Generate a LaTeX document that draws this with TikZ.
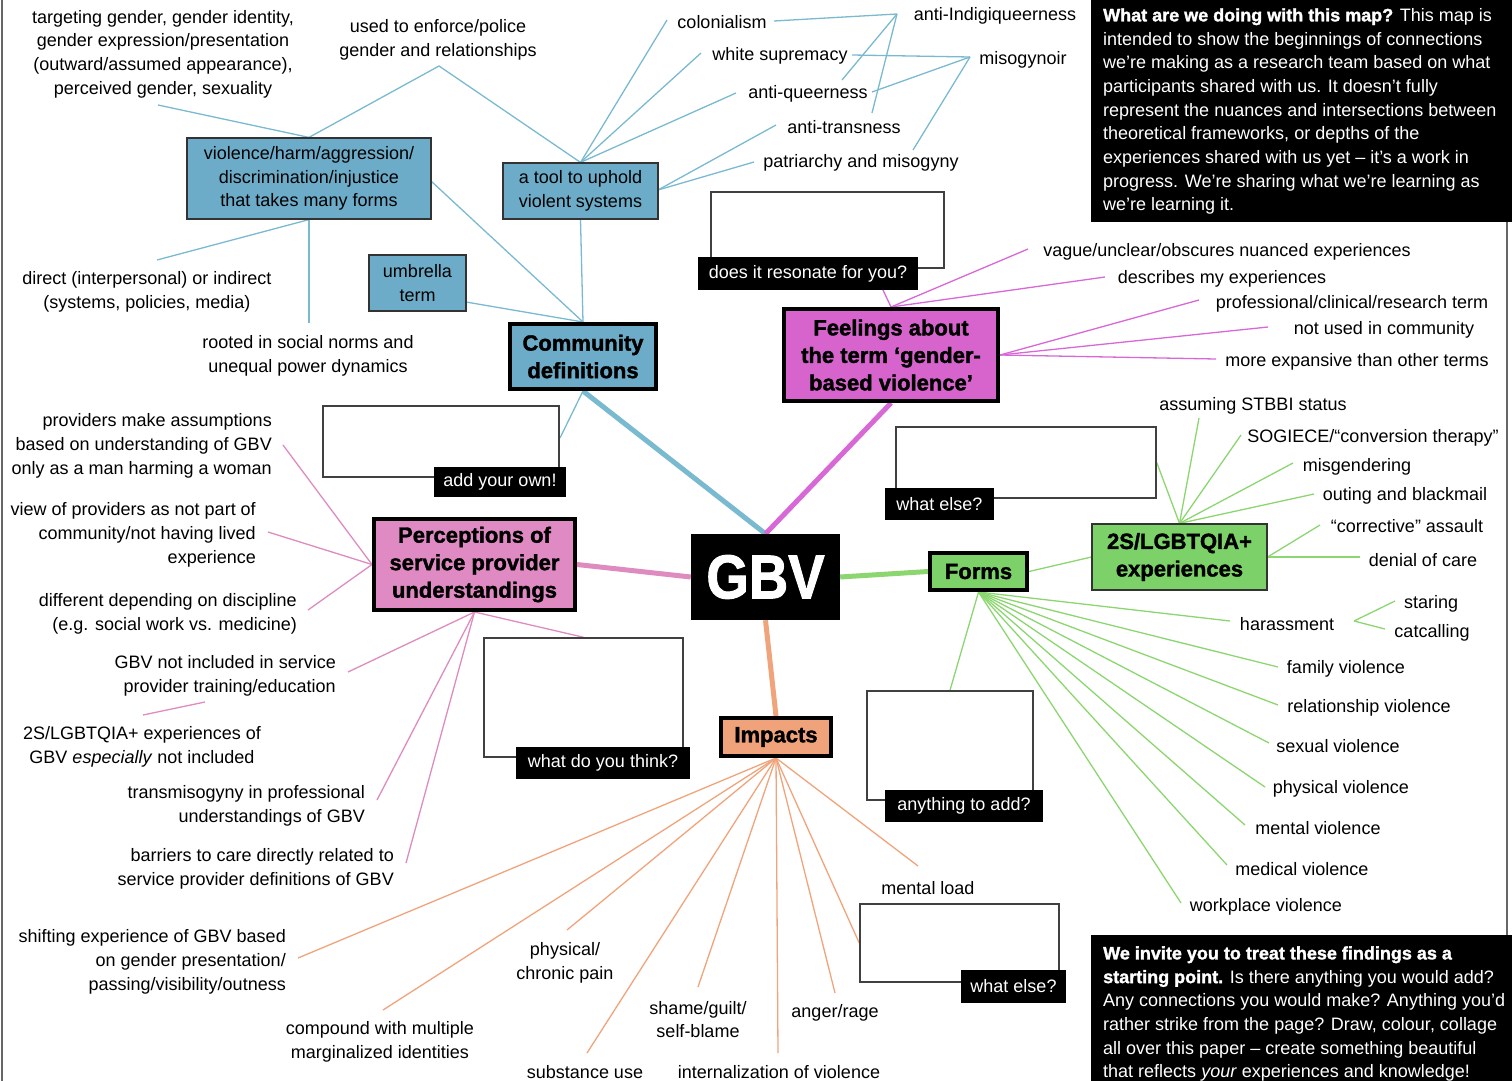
\documentclass[tikz,border=0pt]{standalone}
\usepackage{fontspec}
\setmainfont{Liberation Sans}
\newfontfamily\hvy[FakeBold=1.6]{Liberation Sans}
\usepackage{graphicx}
\usetikzlibrary{backgrounds}
\definecolor{blueF}{RGB}{108,172,200}
\definecolor{blueL}{RGB}{122,186,208}
\definecolor{magF}{RGB}{214,100,204}
\definecolor{magL}{RGB}{216,104,214}
\definecolor{pinkF}{RGB}{224,138,196}
\definecolor{pinkL}{RGB}{222,140,192}
\definecolor{grnF}{RGB}{124,210,104}
\definecolor{grnL}{RGB}{140,214,112}
\definecolor{orF}{RGB}{240,162,122}
\definecolor{orL}{RGB}{240,164,124}
\newcommand\fs{\fontsize{18}{23.7}\selectfont}
\newcommand\hfs{\fontsize{22}{27.5}\selectfont\hvy\bfseries}
\newcommand\hb[1]{{\hvy\bfseries #1}}
\begin{document}
\begin{tikzpicture}[x=1pt,y=-1pt,
 txt/.style={font=\fs, inner sep=0pt, align=center},
 rtxt/.style={font=\fs, inner sep=0pt, align=right, anchor=east},
 sbox/.style={draw=black!80, line width=1.2, fill=blueF, font=\fs, align=center, inner sep=0pt},
 hbox/.style={draw=black, line width=4, font=\hfs, align=center, inner sep=0pt},
 ebox/.style={draw=black!75, line width=1.5, fill=white, inner sep=0pt},
 lbl/.style={fill=black, text=white, font=\fs, inner sep=0pt},
 wtxt/.style={font=\fs, text=white, align=left, inner sep=0pt, anchor=west},
 lb/.style={draw=blueL, line width=1.3},
 bth/.style={draw=blueL, line width=5},
 ml/.style={draw=magL, line width=1.3},
 mth/.style={draw=magL, line width=5},
 pl/.style={draw=pinkL, line width=1.3},
 pth/.style={draw=pinkL, line width=5},
 gl/.style={draw=grnL, line width=1.3},
 gth/.style={draw=grnL, line width=5},
 ol/.style={draw=orL, line width=1.3},
 oth/.style={draw=orL, line width=5}]
\useasboundingbox (0,0) rectangle (1512,1081);
\draw[black!60, line width=1.5] (2,0) -- (2,1081);
\draw[black!60, line width=1.5] (1507,222) -- (1507,935);

% ---------- main boxes ----------
\node[fill=black, minimum width=149, minimum height=86, inner sep=0pt, text=white,
 font=\fontsize{62}{62}\selectfont\hvy\bfseries] (gbv) at (765.5,577) {\scalebox{0.88}[1]{GBV}};
\node[hbox, fill=blueF, minimum width=146, minimum height=65] (comm) at (583,356.5) {Community\\definitions};
\node[hbox, fill=magF, minimum width=214, minimum height=92] (feel) at (891,355) {Feelings about\\the term ‘gender-\\based violence’};
\node[hbox, fill=pinkF, minimum width=201, minimum height=91] (perc) at (474.5,564.5) {Perceptions of\\service provider\\understandings};
\node[hbox, fill=grnF, minimum width=97, minimum height=37] (forms) at (978.5,571.5) {Forms};
\node[hbox, fill=orF, minimum width=110, minimum height=38] (imp) at (776,737) {Impacts};
\node[draw=black!80, line width=1.2, fill=grnF, font=\hfs, align=center, inner sep=0pt,
 minimum width=175, minimum height=66] (lgb) at (1179.5,557) {2S/LGBTQIA+\\experiences};

% ---------- blue small boxes ----------
\node[sbox, minimum width=244, minimum height=81] (viol) at (309,178.5) {violence/harm/aggression/\\discrimination/injustice\\that takes many forms};
\node[sbox, minimum width=155, minimum height=56] (tool) at (580.5,191) {a tool to uphold\\violent systems};
\node[sbox, minimum width=97, minimum height=56] (umb) at (417.5,283) {umbrella\\term};

% ---------- empty boxes with labels ----------
\node[ebox, minimum width=236, minimum height=71] (e1) at (441,441.5) {};
\node[lbl, minimum width=132, minimum height=30] (l1) at (500,482) {add your own!};
\node[ebox, minimum width=233, minimum height=76] (e2) at (827.5,230) {};
\node[lbl, minimum width=220, minimum height=33] (l2) at (808,273.5) {does it resonate for you?};
\node[ebox, minimum width=260, minimum height=71] (e3) at (1026,462.5) {};
\node[lbl, minimum width=109, minimum height=32] (l3) at (939.5,504) {what else?};
\node[ebox, minimum width=199, minimum height=119] (e4) at (583.5,697.5) {};
\node[lbl, minimum width=174, minimum height=32] (l4) at (603,763) {what do you think?};
\node[ebox, minimum width=166, minimum height=109] (e5) at (950,745.5) {};
\node[lbl, minimum width=158, minimum height=32] (l5) at (964,806) {anything to add?};
\node[ebox, minimum width=199, minimum height=78] (e6) at (959.5,943) {};
\node[lbl, minimum width=105, minimum height=33] (l6) at (1013.5,986.5) {what else?};

% ---------- info boxes ----------
\node[fill=black, minimum width=421, minimum height=222, inner sep=0pt, anchor=north west] (infoT) at (1091,0) {};
\node[wtxt] (infoTt) at (1103,111.5) {\hb{What are we doing with this map?} This map is\\intended to show the beginnings of connections\\we’re making as a research team based on what\\participants shared with us. It doesn’t fully\\represent the nuances and intersections between\\theoretical frameworks, or depths of the\\experiences shared with us yet – it’s a work in\\progress. We’re sharing what we’re learning as\\we’re learning it.};
\node[fill=black, minimum width=421, minimum height=146, inner sep=0pt, anchor=north west] (infoB) at (1091,935) {};
\node[wtxt] (infoBt) at (1103,1014) {\hb{We invite you to treat these findings as a}\\\hb{starting point.} Is there anything you would add?\\Any connections you would make? Anything you’d\\rather strike from the page? Draw, colour, collage\\all over this paper – create something beautiful\\that reflects \emph{your} experiences and knowledge!};

% ---------- blue texts ----------
\node[txt] (tTarg) at (163,54) {targeting gender, gender identity,\\gender expression/presentation\\(outward/assumed appearance),\\perceived gender, sexuality};
\node[txt] (tEnf) at (438,40) {used to enforce/police\\gender and relationships};
\node[txt] (tDir) at (147,292) {direct (interpersonal) or indirect\\(systems, policies, media)};
\node[txt] (tRoot) at (308,356) {rooted in social norms and\\unequal power dynamics};
\node[txt] (tCol) at (722,22) {colonialism};
\node[txt] (tWhite) at (780,56) {white supremacy};
\node[txt] (tAQ) at (808,94) {anti-queerness};
\node[txt] (tAT) at (844,127) {anti-transness};
\node[txt] (tPat) at (861,163) {patriarchy and misogyny};
\node[txt] (tInd) at (995,16) {anti-Indigiqueerness};
\node[txt] (tMis) at (1023,60) {misogynoir};

% ---------- magenta texts ----------
\node[txt] (tVag) at (1227,252) {vague/unclear/obscures nuanced experiences};
\node[txt] (tDes) at (1222,279) {describes my experiences};
\node[txt] (tProf) at (1352,304) {professional/clinical/research term};
\node[txt] (tNot) at (1384,330) {not used in community};
\node[txt] (tExp) at (1357,362) {more expansive than other terms};

% ---------- pink texts ----------
\node[rtxt] (tProv) at (272,446) {providers make assumptions\\based on understanding of GBV\\only as a man harming a woman};
\node[rtxt] (tView) at (256,535) {view of providers as not part of\\community/not having lived\\experience};
\node[rtxt] (tDiff) at (297,614) {different depending on discipline\\(e.g. social work vs. medicine)};
\node[rtxt] (tNI) at (336,676) {GBV not included in service\\provider training/education};
\node[txt] (t2S) at (142,746.5) {2S/LGBTQIA+ experiences of\\GBV \emph{especially} not included};
\node[rtxt] (tTM) at (365,806) {transmisogyny in professional\\understandings of GBV};
\node[rtxt] (tBar) at (394,869) {barriers to care directly related to\\service provider definitions of GBV};

% ---------- orange texts ----------
\node[rtxt] (tShift) at (286,962) {shifting experience of GBV based\\on gender presentation/\\passing/visibility/outness};
\node[txt] (tComp) at (380,1041.5) {compound with multiple\\marginalized identities};
\node[txt] (tPhys) at (565,962.5) {physical/\\chronic pain};
\node[txt] (tShame) at (698,1019.5) {shame/guilt/\\self-blame};
\node[txt] (tSub) at (585,1072) {substance use};
\node[txt] (tInt) at (779,1072) {internalization of violence};
\node[txt] (tAng) at (835,1013) {anger/rage};
\node[txt] (tMent) at (928,888) {mental load};

% ---------- green texts ----------
\node[txt] (tSTB) at (1253,406) {assuming STBBI status};
\node[txt] (tSOG) at (1373,438) {SOGIECE/“conversion therapy”};
\node[txt] (tMisg) at (1357,467) {misgendering};
\node[txt] (tOut) at (1405,496) {outing and blackmail};
\node[txt] (tCorr) at (1407,526) {“corrective” assault};
\node[txt] (tDen) at (1423,560) {denial of care};
\node[txt] (tHar) at (1287,624) {harassment};
\node[txt] (tStar) at (1431,604) {staring};
\node[txt] (tCat) at (1432,633) {catcalling};
\node[txt] (tFam) at (1346,669) {family violence};
\node[txt] (tRel) at (1369,708) {relationship violence};
\node[txt] (tSex) at (1338,746) {sexual violence};
\node[txt] (tPhV) at (1341,789) {physical violence};
\node[txt] (tMeV) at (1318,828) {mental violence};
\node[txt] (tMdV) at (1302,869) {medical violence};
\node[txt] (tWork) at (1266,907) {workplace violence};

% ---------- connector end coordinates ----------
\coordinate (cTarg) at (158,105);
\coordinate (cEnf) at (439,66);
\coordinate (cViolE) at (431,181);
\coordinate (cDir) at (157,260);
\coordinate (cRoot) at (309,323);
\coordinate (cUmb) at (466,302);
\coordinate (cCol) at (667,20);
\coordinate (cWhite) at (701,53);
\coordinate (cAQ) at (736,93);
\coordinate (cToolE) at (658,190);
\coordinate (cAT) at (776,125);
\coordinate (cPat) at (754,162);
\coordinate (cInd) at (897,14);
\coordinate (cColE) at (774,21);
\coordinate (cAQE) at (842,80);
\coordinate (cATt) at (872,113);
\coordinate (cMis) at (970,57);
\coordinate (cWhE) at (852,55);
\coordinate (cAQE2) at (872,92);
\coordinate (cPatE) at (913,150);
\coordinate (cAdd) at (560,438);
\coordinate (cRes) at (883,290);
\coordinate (cVag) at (1028,249);
\coordinate (cDes) at (1105,277);
\coordinate (cProf) at (1199,300);
\coordinate (cNot) at (1268,327);
\coordinate (cExp) at (1216,359);
\coordinate (cProv) at (283,445);
\coordinate (cView) at (268,532);
\coordinate (cDiff) at (308,610);
\coordinate (cNI) at (348,672);
\coordinate (cTM) at (377,800);
\coordinate (cBar) at (406,863);
\coordinate (c2Sa) at (143,715);
\coordinate (c2Sb) at (205,702);
\coordinate (cShift) at (298,958);
\coordinate (cComp) at (383,1010);
\coordinate (cPhys) at (567,930);
\coordinate (cSub) at (587,1053);
\coordinate (cShame) at (698,987);
\coordinate (cInt) at (778,1053);
\coordinate (cAng) at (835,993);
\coordinate (cMent) at (918,866);
\coordinate (cSTB) at (1199,418);
\coordinate (cSOG) at (1241,435);
\coordinate (cMisg) at (1293,463);
\coordinate (cOut) at (1314,494);
\coordinate (cCorr) at (1320,525);
\coordinate (cDen) at (1360,557);
\coordinate (cHar) at (1230,621);
\coordinate (cHarR) at (1354,621);
\coordinate (cStar) at (1395,601);
\coordinate (cCat) at (1385,629);
\coordinate (cFam) at (1278,667);
\coordinate (cRel) at (1278,705);
\coordinate (cSex) at (1269,743);
\coordinate (cPhV) at (1265,787);
\coordinate (cMeV) at (1245,825);
\coordinate (cMdV) at (1227,865);
\coordinate (cWork) at (1181,903);

\begin{scope}[on background layer]
% blue
\draw[lb] (viol.north) -- (cTarg);
\draw[lb] (viol.north) -- (cEnf) -- (tool.north);
\draw[lb] (cViolE) -- (comm.north);
\draw[lb] (viol.south) -- (cDir);
\draw[lb] (viol.south) -- (cRoot);
\draw[lb] (cUmb) -- (comm.north);
\draw[lb] (tool.south) -- (comm.north);
\draw[lb] (tool.north) -- (cCol);
\draw[lb] (tool.north) -- (cWhite);
\draw[lb] (tool.north) -- (cAQ);
\draw[lb] (cToolE) -- (cAT);
\draw[lb] (cToolE) -- (cPat);
\draw[lb] (cInd) -- (cColE);
\draw[lb] (cInd) -- (cAQE);
\draw[lb] (cInd) -- (cATt);
\draw[lb] (cMis) -- (cWhE);
\draw[lb] (cMis) -- (cAQE2);
\draw[lb] (cMis) -- (cPatE);
\draw[lb] (comm.south) -- (cAdd);
\draw[bth] (comm.south) -- (gbv.north);
% magenta
\draw[mth] (feel.south) -- (gbv.north);
\draw[ml] (feel.north) -- (cRes);
\draw[ml] (feel.north) -- (cVag);
\draw[ml] (feel.north) -- (cDes);
\draw[ml] (feel.east) -- (cProf);
\draw[ml] (feel.east) -- (cNot);
\draw[ml] (feel.east) -- (cExp);
% pink
\draw[pth] (perc.east) -- (gbv.west);
\draw[pl] (perc.west) -- (cProv);
\draw[pl] (perc.west) -- (cView);
\draw[pl] (perc.west) -- (cDiff);
\draw[pl] (perc.south) -- (cNI);
\draw[pl] (perc.south) -- (cTM);
\draw[pl] (perc.south) -- (cBar);
\draw[pl] (perc.south) -- (e4.north);
\draw[pl] (c2Sa) -- (c2Sb);
% orange
\draw[oth] (gbv.south) -- (imp.north);
\foreach \c in {cShift,cComp,cPhys,cSub,cShame,cInt,cAng,cMent}
  \draw[ol] (imp.south) -- (\c);
\draw[ol] (imp.south) -- (e6.west);
% green
\draw[gth] (gbv.east) -- (forms.west);
\draw[gl] (forms.east) -- (lgb.west);
\foreach \c in {cSTB,cSOG,cMisg,cOut}
  \draw[gl] (lgb.north) -- (\c);
\draw[gl] (lgb.north) -- (e3.east);
\draw[gl] (lgb.east) -- (cCorr);
\draw[gl] (lgb.east) -- (cDen);
\draw[gl] (forms.south) -- (e5.north);
\foreach \c in {cHar,cFam,cRel,cSex,cPhV,cMeV,cMdV,cWork}
  \draw[gl] (forms.south) -- (\c);
\draw[gl] (cHarR) -- (cStar);
\draw[gl] (cHarR) -- (cCat);
\end{scope}
\end{tikzpicture}
\end{document}
